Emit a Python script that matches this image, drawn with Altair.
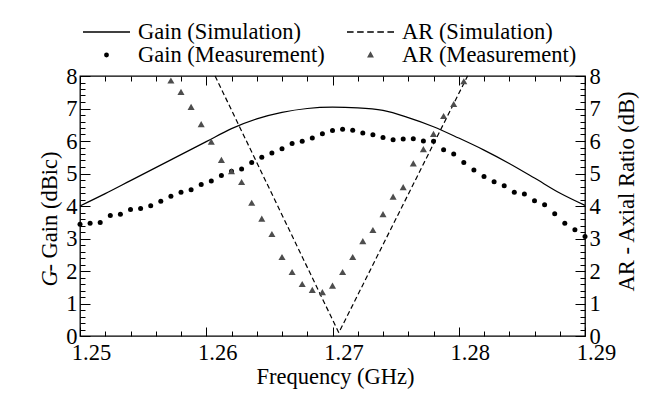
import altair as alt
import pandas as pd

# ---------------- data ----------------
gain_sim_freq = [1.250, 1.252, 1.254, 1.256, 1.258, 1.260, 1.262, 1.264, 1.266, 1.268, 1.270,
                 1.272, 1.274, 1.276, 1.278, 1.280, 1.282, 1.284, 1.286, 1.288, 1.290]
gain_sim_val = [4.00, 4.38, 4.78, 5.18, 5.58, 5.98, 6.38, 6.68, 6.88, 7.00, 7.04,
                7.02, 6.94, 6.72, 6.44, 6.09, 5.72, 5.31, 4.86, 4.40, 4.02]

ar_sim_freq = [1.2607, 1.2705, 1.2807]
ar_sim_val = [8.0, 0.1, 8.0]

gain_meas_freq = [1.2500, 1.2508, 1.2516, 1.2524, 1.2532, 1.2540, 1.2548, 1.2556, 1.2564, 1.2572,
                  1.2580, 1.2588, 1.2596, 1.2604, 1.2612, 1.2620, 1.2628, 1.2636, 1.2644, 1.2652,
                  1.2660, 1.2668, 1.2676, 1.2684, 1.2692, 1.2700, 1.2708, 1.2716, 1.2724, 1.2732,
                  1.2740, 1.2748, 1.2756, 1.2764, 1.2772, 1.2780, 1.2788, 1.2796, 1.2804, 1.2812,
                  1.2820, 1.2828, 1.2836, 1.2844, 1.2852, 1.2860, 1.2868, 1.2876, 1.2884, 1.2892,
                  1.2900]
gain_meas_val = [3.44, 3.47, 3.49, 3.71, 3.75, 3.89, 3.92, 4.01, 4.15, 4.30,
                 4.42, 4.50, 4.66, 4.77, 4.94, 5.07, 5.14, 5.34, 5.50, 5.63,
                 5.76, 5.92, 5.99, 6.09, 6.22, 6.32, 6.36, 6.33, 6.25, 6.19,
                 6.11, 6.04, 6.06, 6.07, 6.00, 5.99, 5.73, 5.60, 5.34, 5.11,
                 4.91, 4.75, 4.62, 4.42, 4.37, 4.16, 4.04, 3.76, 3.47, 3.27,
                 3.06]

ar_meas_freq = [1.2572, 1.2580, 1.2588, 1.2596, 1.2604, 1.2612, 1.2620, 1.2628, 1.2636, 1.2644,
                1.2652, 1.2660, 1.2668, 1.2676, 1.2684, 1.2692, 1.2700, 1.2708, 1.2716, 1.2724,
                1.2732, 1.2740, 1.2748, 1.2756, 1.2764, 1.2772, 1.2780, 1.2788, 1.2796, 1.2804]
ar_meas_val = [7.86, 7.51, 7.05, 6.52, 5.98, 5.42, 5.07, 4.74, 4.10, 3.61,
               3.14, 2.43, 1.97, 1.60, 1.42, 1.35, 1.55, 1.97, 2.43, 2.92,
               3.26, 3.75, 4.29, 4.58, 5.31, 5.75, 6.22, 6.77, 7.14, 7.84]

x_major = [1.25, 1.26, 1.27, 1.28, 1.29]
x_minor = [1.252, 1.254, 1.256, 1.258, 1.262, 1.264, 1.266, 1.268,
           1.272, 1.274, 1.276, 1.278, 1.282, 1.284, 1.286, 1.288]
y_major = [0, 1, 2, 3, 4, 5, 6, 7, 8]
y_minor = [round(i * 0.2, 1) for i in range(41) if i % 5 != 0]

legend_labels = ["Gain (Simulation)", "Gain (Measurement)", "AR (Simulation)", "AR (Measurement)"]
legend_colors = ["black", "black", "black", "#4d4d4d"]
legend_paths = [
    "M-1,0H1",
    "M0.075,0A0.075,0.075,0,1,1,-0.075,0A0.075,0.075,0,1,1,0.075,0Z",
    "M-1,0H-0.72M-0.57,0H-0.29M-0.14,0H0.14M0.29,0H0.57M0.72,0H1",
    "M0,-0.1L0.1,0.08L-0.1,0.08Z",
]

# ---------------- styling ----------------
FONT = "Liberation Serif"
FS = 22.5
W, H = 505, 260

xscale = alt.Scale(domain=[1.25, 1.29], nice=False, zero=False)
yscale = alt.Scale(domain=[0, 8], nice=False, zero=False)


def tick_axis(orient, offset, values, size, **kw):
    opts = dict(orient=orient, offset=offset, values=values, tickSize=size,
                labels=False, domain=False, grid=False, title=None,
                ticks=True, tickColor="black", tickWidth=1)
    opts.update(kw)
    return alt.Axis(**opts)


x_lab = alt.Axis(orient="bottom", values=x_major, format=".2f", ticks=False, tickSize=0,
                 domain=False, grid=False, labelPadding=5, labelOffset=11,
                 labelFlush=False, labelOverlap=False,
                 title="Frequency (GHz)", titleX=255, titleY=47,
                 titleBaseline="alphabetic", titleAlign="center")
# left title is split: upright "- Gain (dBic)" here, italic "G" on the tick axis below
y_lab_left = alt.Axis(orient="left", values=y_major, format="d", ticks=False, tickSize=0,
                      domain=False, grid=False, labelPadding=3, labelOverlap=False,
                      title="- Gain (dBic)", titleAngle=270, titleX=-24, titleY=195,
                      titleAlign="left", titleBaseline="alphabetic")
y_lab_right = alt.Axis(orient="right", values=y_major, format="d", ticks=False, tickSize=0,
                       domain=False, grid=False, labelPadding=4, labelOverlap=False,
                       title="AR - Axial Ratio (dB)", titleAngle=270, titleX=48, titleY=115,
                       titleAlign="center", titleBaseline="alphabetic")

df_gs = pd.DataFrame({"f": gain_sim_freq, "v": gain_sim_val})
df_as = pd.DataFrame({"f": ar_sim_freq, "v": ar_sim_val})
df_gm = pd.DataFrame({"f": gain_meas_freq, "v": gain_meas_val})
df_am = pd.DataFrame({"f": ar_meas_freq, "v": ar_meas_val})
df_leg = pd.DataFrame({"series": legend_labels, "f": [1.0] * 4, "v": [4.0] * 4})

gain_sim = alt.Chart(df_gs).mark_line(color="black", strokeWidth=1.2, interpolate="monotone").encode(
    x=alt.X("f:Q", scale=xscale, axis=x_lab),
    y=alt.Y("v:Q", scale=yscale, axis=y_lab_left),
)

ar_sim = alt.Chart(df_as).mark_line(color="black", strokeWidth=1.2, strokeDash=[5, 3]).encode(
    x=alt.X("f:Q", scale=xscale, axis=tick_axis("top", -H, x_major, 9)),
    y=alt.Y("v:Q", scale=yscale, axis=y_lab_right),
)

gain_meas = alt.Chart(df_gm).mark_point(filled=True, shape="circle", size=25, color="black", opacity=1).encode(
    x=alt.X("f:Q", scale=xscale, axis=tick_axis("top", -H, x_minor, 5)),
    y=alt.Y("v:Q", scale=yscale, axis=tick_axis(
        "right", -W, y_major, 10, title="G", titleFontStyle="italic", titleAngle=270,
        titleX=-24, titleY=210, titleAlign="left", titleBaseline="alphabetic")),
)

ar_meas = alt.Chart(df_am).mark_point(filled=True, shape="triangle-up", size=50, color="#4d4d4d", opacity=1).encode(
    x=alt.X("f:Q", scale=xscale, axis=tick_axis("bottom", -H, x_major, 9)),
    y=alt.Y("v:Q", scale=yscale, axis=tick_axis("right", -W, y_minor, 5)),
)

legend_kw = dict(title=None, orient="none", legendX=2, legendY=-55.5, columns=2,
                 labelFont=FONT, labelFontSize=FS, labelColor="black", labelLimit=400,
                 labelOffset=7, symbolSize=2209, symbolStrokeWidth=1.3,
                 symbolFillColor="black", symbolStrokeColor="black",
                 clipHeight=23, rowPadding=0, columnPadding=21, padding=0)

legend_layer = alt.Chart(df_leg).mark_point(filled=True, clip=True, opacity=1).encode(
    x=alt.X("f:Q", scale=xscale, axis=tick_axis("bottom", -H, x_minor, 5)),
    y=alt.Y("v:Q", scale=yscale, axis=tick_axis("left", -W, y_major, 10)),
    shape=alt.Shape("series:N", scale=alt.Scale(domain=legend_labels, range=legend_paths),
                    legend=alt.Legend(**legend_kw)),
    fill=alt.Fill("series:N", scale=alt.Scale(domain=legend_labels, range=legend_colors),
                  legend=alt.Legend(**legend_kw)),
    stroke=alt.Stroke("series:N", scale=alt.Scale(domain=legend_labels, range=legend_colors),
                      legend=alt.Legend(**legend_kw)),
)

minor_layer = alt.Chart(df_leg).mark_point(filled=True, clip=True, opacity=0).encode(
    x=alt.X("f:Q", scale=xscale, axis=None),
    y=alt.Y("v:Q", scale=yscale, axis=tick_axis("left", -W, y_minor, 5)),
)

chart = alt.layer(gain_sim, ar_sim, gain_meas, ar_meas, legend_layer, minor_layer).resolve_axis(
    x="independent", y="independent"
).properties(
    width=W, height=H,
    autosize=alt.AutoSizeParams(type="none"),
    padding={"left": 80, "top": 76, "right": 80, "bottom": 69},
    background="white",
).configure_view(
    stroke="black", strokeWidth=1.3
).configure_axis(
    labelFont=FONT, labelFontSize=FS, labelColor="black",
    titleFont=FONT, titleFontSize=FS, titleFontWeight="normal", titleColor="black",
)

chart.save("out.html", embed_options={"renderer": "svg", "actions": False})
